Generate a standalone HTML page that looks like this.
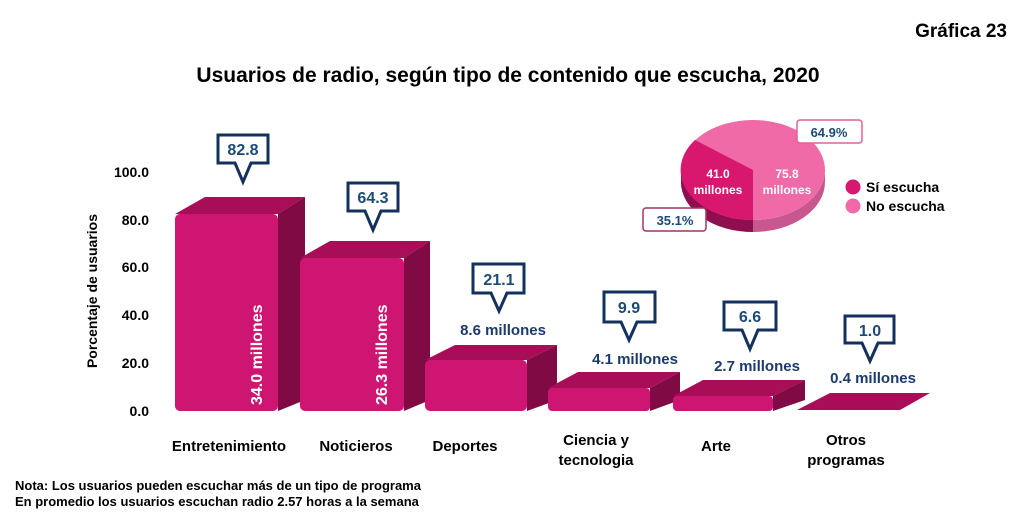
<!DOCTYPE html>
<html><head><meta charset="utf-8"><style>
body{margin:0;background:#fff;}
svg{display:block;font-family:"Liberation Sans",Arial,sans-serif;font-weight:bold;}
</style></head><body>
<svg width="1024" height="521" viewBox="0 0 1024 521">
<text x="1007" y="37" font-size="19" text-anchor="end">Gráfica 23</text>
<text x="508" y="82" font-size="21" text-anchor="middle">Usuarios de radio, según tipo de contenido que escucha, 2020</text>
<g font-size="14" text-anchor="end">
<text x="149" y="177">100.0</text><text x="149" y="225">80.0</text><text x="149" y="272">60.0</text>
<text x="149" y="320">40.0</text><text x="149" y="368">20.0</text><text x="149" y="416">0.0</text>
</g>
<text transform="translate(97,291) rotate(-90)" font-size="14" text-anchor="middle">Porcentaje de usuarios</text>
<g id="bars">
<!-- bar1 -->
<polygon points="175,214 205,197 305,197 278,214" fill="#a80d57"/>
<polygon points="278,214 305,197 305,400 278,411" fill="#800a44"/>
<rect x="175" y="214" width="103" height="197" rx="5" fill="#cf1572"/>
<!-- bar2 -->
<polygon points="300,258 330,241 430,241 404,258" fill="#a80d57"/>
<polygon points="404,258 430,241 430,400 404,411" fill="#800a44"/>
<rect x="300" y="258" width="104" height="153" rx="5" fill="#cf1572"/>
<!-- bar3 -->
<polygon points="425,360 455,345 557,345 527,360" fill="#a80d57"/>
<polygon points="527,360 557,345 557,400 527,411" fill="#800a44"/>
<rect x="425" y="360" width="102" height="51" rx="5" fill="#cf1572"/>
<!-- bar4 -->
<polygon points="548,388 578,372 680,372 650,388" fill="#a80d57"/>
<polygon points="650,388 680,372 680,400 650,411" fill="#800a44"/>
<rect x="548" y="388" width="102" height="23" rx="4" fill="#cf1572"/>
<!-- bar5 -->
<polygon points="673,396 703,380 805,380 773,396" fill="#a80d57"/>
<polygon points="773,396 805,380 805,400 773,411" fill="#800a44"/>
<rect x="673" y="396" width="100" height="15" rx="4" fill="#cf1572"/>
<!-- bar6 -->
<polygon points="797,410 830,393 930,393 900,410" fill="#a80d57"/>
</g>
<g fill="#fff" font-size="16">
<text transform="translate(262,405) rotate(-90)">34.0 millones</text>
<text transform="translate(387,405) rotate(-90)">26.3 millones</text>
</g>
<g fill="#fff" stroke="#14305e" stroke-width="3">
<path d="M218,135 H268 V163 H251 L243,182 L235,163 H218 Z"/>
<path d="M348,183 H398 V211 H381 L373,230 L365,211 H348 Z"/>
<path d="M473,264 H524 V293 H507 L499,311 L491,293 H473 Z"/>
<path d="M604,292 H655 V322 H637 L629,340 L621,322 H604 Z"/>
<path d="M724,302 H776 V330 H758 L750,349 L742,330 H724 Z"/>
<path d="M845,316 H894 V343 H878 L870,361 L862,343 H845 Z"/>
</g>
<g fill="#1c4a78" font-size="16" text-anchor="middle">
<text x="243" y="155">82.8</text><text x="373" y="203">64.3</text>
<text x="499" y="285">21.1</text><text x="629" y="313">9.9</text>
<text x="750" y="322">6.6</text><text x="870" y="336">1.0</text>
</g>
<g fill="#1c3a6e" font-size="15" text-anchor="middle">
<text x="503" y="335">8.6 millones</text><text x="635" y="364">4.1 millones</text>
<text x="757" y="371">2.7 millones</text><text x="873" y="383">0.4 millones</text>
</g>
<g font-size="15" text-anchor="middle">
<text x="229" y="451">Entretenimiento</text><text x="356" y="451">Noticieros</text>
<text x="465" y="451">Deportes</text><text x="596" y="445">Ciencia y</text><text x="596" y="465">tecnologia</text>
<text x="716" y="451">Arte</text><text x="846" y="445">Otros</text><text x="846" y="465">programas</text>
</g>
<!-- pie -->
<g>
<path d="M681,170 A72,50 0 0 0 825,170 V182 A72,50 0 0 1 681,182 Z" fill="#c9578f"/>
<path d="M681,170 A72,50 0 0 0 753,220 V232 A72,50 0 0 1 681,182 Z" fill="#8e0e4f"/>
<ellipse cx="753" cy="170" rx="72" ry="50" fill="#f06aa8"/>
<path d="M753,170 L753,220 A72,50 0 0 1 695,140 Z" fill="#d8186f"/>
</g>
<g fill="#fff" font-size="12" text-anchor="middle">
<text x="718" y="178">41.0</text><text x="718" y="194">millones</text>
<text x="787" y="178">75.8</text><text x="787" y="194">millones</text>
</g>
<rect x="797" y="120" width="65" height="23" rx="3" fill="#fff" stroke="#e0609d" stroke-width="1.5"/>
<text x="829" y="137" font-size="13" fill="#1c4a78" text-anchor="middle">64.9%</text>
<rect x="643" y="208" width="63" height="23" rx="3" fill="#fff" stroke="#a0336a" stroke-width="1.5"/>
<text x="675" y="225" font-size="13" fill="#1c4a78" text-anchor="middle">35.1%</text>
<circle cx="853" cy="187" r="7.5" fill="#d8186f"/><circle cx="853" cy="206" r="7.5" fill="#f06aa8"/>
<text x="866" y="192" font-size="14">Sí escucha</text><text x="866" y="211" font-size="14">No escucha</text>
<text x="15" y="490" font-size="13">Nota: Los usuarios pueden escuchar más de un tipo de programa</text>
<text x="15" y="506" font-size="13">En promedio los usuarios escuchan radio 2.57 horas a la semana</text>
</svg>
</body></html>
